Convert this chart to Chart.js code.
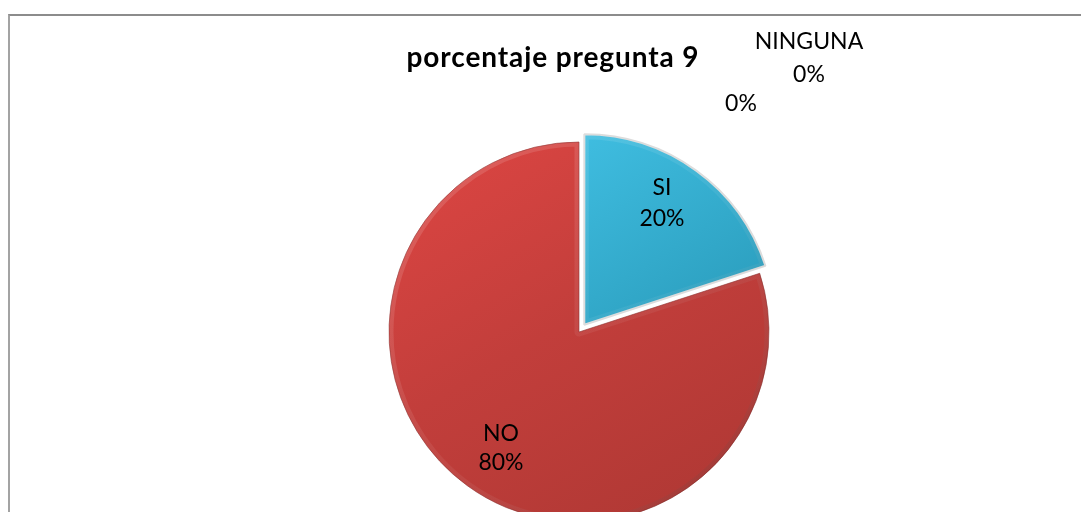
<!DOCTYPE html>
<html>
<head>
<meta charset="utf-8">
<script src="https://cdn.jsdelivr.net/npm/chart.js@4/dist/chart.umd.min.js"></script>
<style>
  html, body { margin: 0; padding: 0; background: #fff; overflow: hidden; width: 1081px; height: 512px; }
  #frame { position: absolute; left: 8px; top: 14px; width: 1100px; height: 600px;
           border-left: 2px solid #a3a3a3; border-top: 2px solid #8c8c8c; box-sizing: border-box; }
  #wrap { position: absolute; left: 0; top: 0; width: 1081px; height: 664px; }
  #title { position: absolute; left: 553px; top: 56px; transform: translate(-50%, -50%);
           font: bold 28px Lato, "Open Sans", sans-serif; letter-spacing: 0.9px; color: #000; white-space: nowrap; }
</style>
</head>
<body>
<div id="frame"></div>
<div id="wrap"><canvas id="c" width="1081" height="664"></canvas></div>
<div id="title">porcentaje pregunta 9</div>
<script>
const categories = ["SI", "NO", "NINGUNA", ""];
const values = [20, 80, 0, 0];
const percentLabels = ["20%", "80%", "0%", "0%"];

// styling only: slice explode and label anchors relative to pie centre
const sliceOffsets = [36, 0, 0, 0];
const labelAnchors = [[83, -130], [-78, 115], [230, -275], [162, -229]];
const labelLineGap = [31, 29, 33, 31];

function fillFor(ctx) {
  const chart = ctx.chart;
  const c = chart.ctx;
  const area = chart.chartArea;
  if (!area) return '#c0504d';
  const cx = (area.left + area.right) / 2, cy = (area.top + area.bottom) / 2;
  if (ctx.dataIndex === 0) {
    const g = c.createLinearGradient(cx, cy - 190, cx + 120, cy);
    g.addColorStop(0, '#3fbde0');
    g.addColorStop(1, '#2c9fbf');
    return g;
  }
  const g = c.createLinearGradient(cx - 150, cy - 170, cx + 60, cy + 190);
  g.addColorStop(0, '#da4542');
  g.addColorStop(0.5, '#c23e3b');
  g.addColorStop(1, '#b23935');
  return g;
}

function slicePath(ctx, p, off) {
  const mid = (p.startAngle + p.endAngle) / 2;
  const ox = p.x + Math.cos(mid) * off, oy = p.y + Math.sin(mid) * off;
  ctx.beginPath();
  ctx.moveTo(ox, oy);
  ctx.arc(ox, oy, p.outerRadius, p.startAngle, p.endAngle);
  ctx.closePath();
  return [ox, oy];
}

const bevelPlugin = {
  id: 'bevel',
  afterDatasetsDraw(chart) {
    const ctx = chart.ctx;
    const meta = chart.getDatasetMeta(0);
    meta.data.forEach((arc, i) => {
      if (!values[i]) return;
      const p = arc.getProps(['x', 'y', 'startAngle', 'endAngle', 'outerRadius'], true);
      const off = sliceOffsets[i] / 4;
      ctx.save();
      const [ox, oy] = slicePath(ctx, p, off);
      ctx.clip();
      const g = ctx.createLinearGradient(ox - p.outerRadius, oy - p.outerRadius, ox + p.outerRadius, oy + p.outerRadius);
      g.addColorStop(0, 'rgba(255,255,255,0.16)');
      g.addColorStop(0.5, 'rgba(255,255,255,0.06)');
      g.addColorStop(1, 'rgba(0,0,0,0.16)');
      slicePath(ctx, p, off);
      ctx.lineJoin = 'round';
      ctx.lineWidth = 9;
      ctx.strokeStyle = g;
      ctx.stroke();
      ctx.restore();
    });
  }
};

const labelPlugin = {
  id: 'labels',
  afterDatasetsDraw(chart) {
    const ctx = chart.ctx;
    const meta = chart.getDatasetMeta(0);
    ctx.save();
    ctx.fillStyle = '#000';
    ctx.textAlign = 'center';
    ctx.textBaseline = 'alphabetic';
    ctx.font = '23px Lato, "Open Sans", sans-serif';
    const capHalf = 8.3;
    meta.data.forEach((arc, i) => {
      const p = arc.getProps(['x', 'y'], true);
      const lines = categories[i] ? [categories[i], percentLabels[i]] : [percentLabels[i]];
      const lx = p.x + labelAnchors[i][0];
      const ly = p.y + labelAnchors[i][1];
      const lh = labelLineGap[i];
      lines.forEach((t, k) => {
        ctx.fillText(t, lx, ly + (k - (lines.length - 1) / 2) * lh + capHalf);
      });
    });
    ctx.restore();
  }
};

new Chart(document.getElementById('c'), {
  type: 'pie',
  data: {
    labels: categories,
    datasets: [{
      data: values,
      backgroundColor: fillFor,
      borderColor: ['#dcdcdc', 'rgba(130,35,33,0.55)', '#fff', '#fff'],
      borderWidth: [2, 1, 0, 0],
      offset: sliceOffsets
    }]
  },
  options: {
    responsive: false,
    devicePixelRatio: 1,
    animation: false,
    events: [],
    radius: 190,
    layout: { padding: { left: 77, right: 0, top: 0, bottom: 0 } },
    plugins: { legend: { display: false }, tooltip: { enabled: false }, title: { display: false } }
  },
  plugins: [bevelPlugin, labelPlugin]
});
</script>
</body>
</html>
